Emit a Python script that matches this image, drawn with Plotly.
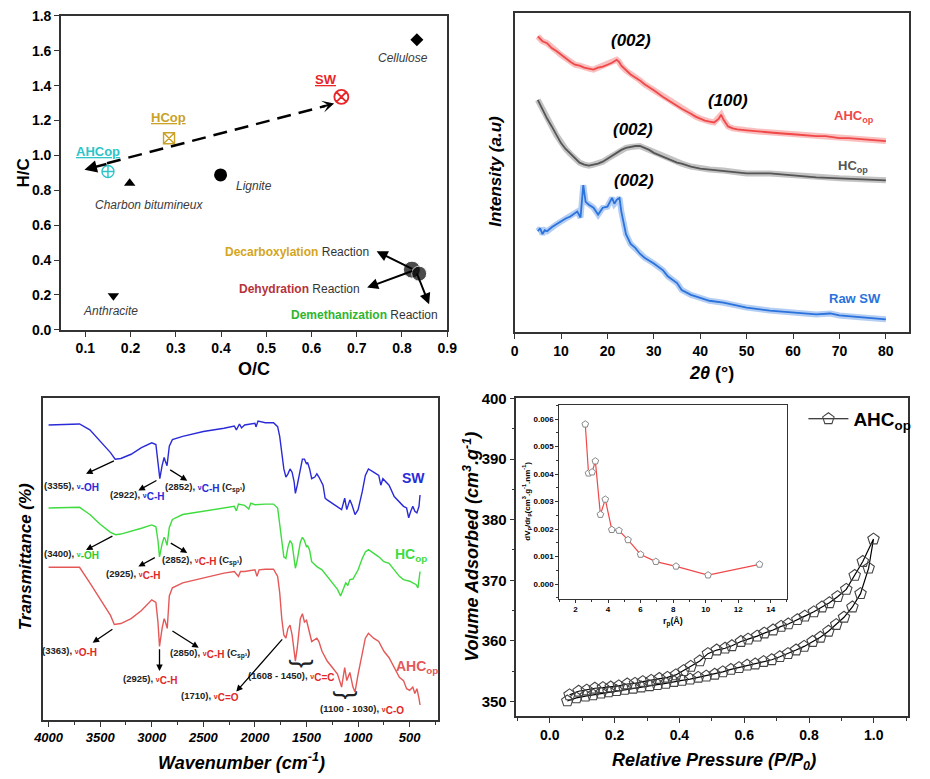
import plotly.graph_objects as go

FONT = "Liberation Sans, Arial, sans-serif"

# ---------------- Panel (a): van Krevelen diagram ----------------
vk_names = ["Cellulose", "SW", "HCop", "AHCop", "Charbon bitumineux", "Lignite", "Anthracite"]
vk_oc = [0.833, 0.666, 0.285, 0.150, 0.198, 0.399, 0.162]
vk_hc = [1.663, 1.335, 1.098, 0.908, 0.840, 0.888, 0.195]
blob_oc = [0.822, 0.838]
blob_hc = [0.345, 0.322]

# ---------------- Panel (b): XRD ----------------
xrd_ahc_2t = [5, 6, 7, 8, 9, 10, 11, 12, 13, 14, 15, 16, 17, 18, 19, 20, 21, 22, 22.5, 23, 24, 25, 26, 27, 28, 30, 32, 33,
              35, 36, 38, 39, 40, 41, 42, 43, 44, 44.5, 45, 46, 47, 48, 50, 52, 55, 57, 60, 62, 65, 67, 70, 72, 75, 77, 80]
xrd_ahc_i = [302, 297, 295, 290, 287, 283, 280, 276, 273, 272, 270, 269, 268, 270, 271, 273, 275, 278, 276, 272, 267, 263, 260, 257,
             253, 247, 240, 237, 231, 228, 223, 220, 218, 216, 215, 214, 218, 222, 217, 210, 208, 207, 206, 205, 204, 203, 202, 201,
             200, 200, 198, 198, 197, 196, 195]
xrd_hc_2t = [5, 5.5, 6, 7, 8, 9, 10, 11, 12, 13, 14, 15, 16, 17, 18, 19, 20, 21, 22, 23, 24, 25, 26, 27, 28, 29, 30, 32, 33, 35,
             36, 38, 40, 42, 45, 48, 50, 55, 60, 65, 70, 75, 80]
xrd_hc_i = [237, 232, 227, 218, 210, 201, 193, 187, 182, 177, 173, 171, 170, 171, 172, 174, 177, 180, 183, 186, 188, 189, 190, 190,
            188, 186, 183, 179, 177, 173, 172, 169, 167, 166, 165, 163, 162, 162, 160, 158, 157, 156, 155]
xrd_sw_2t = [5, 5.5, 6, 6.5, 7, 8, 9, 10, 11, 12, 13, 13.5, 14.2, 14.8, 15.3, 16, 17, 18, 19, 20, 21, 21.5, 22, 22.6, 23, 23.5, 24,
             25, 26, 27, 28, 30, 32, 33, 35, 36, 38, 40, 42, 45, 48, 50, 55, 60, 65, 68, 70, 75, 80]
xrd_sw_i = [103, 106, 100, 104, 103, 107, 110, 113, 116, 118, 121, 123, 117, 150, 133, 130, 127, 120, 127, 128, 137, 131, 135, 137,
            123, 112, 100, 90, 86, 80, 76, 70, 63, 57, 50, 43, 38, 35, 32, 30, 27, 25, 22, 20, 18, 19, 17, 15, 13]

# ---------------- Panel (c): FTIR ----------------
ftir_sw_wn = [4000, 3800, 3700, 3600, 3500, 3400, 3355, 3300, 3200, 3100, 3000, 2960, 2940, 2922, 2900, 2880, 2870, 2852, 2830,
              2800, 2700, 2500, 2300, 2200, 2180, 2150, 2130, 2100, 2000, 1990, 1970, 1900, 1820, 1780, 1760, 1740, 1720, 1700,
              1680, 1660, 1640, 1620, 1608, 1590, 1560, 1540, 1520, 1500, 1490, 1470, 1450, 1420, 1400, 1380, 1340, 1320, 1300,
              1250, 1200, 1160, 1130, 1110, 1080, 1060, 1030, 1000, 960, 930, 900, 870, 850, 800, 780, 760, 700, 650, 600, 560,
              530, 510, 490, 470, 450, 430, 410, 400]
ftir_sw_t = [302, 302.7, 303, 297, 285.3, 273.7, 267, 267.7, 272, 278.7, 283.7, 282, 263.7, 247, 260.3, 268.7, 265.3, 260.3, 280.3,
             287, 290.3, 295.3, 298.7, 301, 297, 303, 299, 302, 303.7, 300, 306, 304.3, 304.3, 300.3, 290.3, 270.3, 257, 248.7,
             252, 257, 253.7, 243.7, 232, 240.3, 257, 267, 267, 262, 263.7, 257, 247, 248.7, 252, 248.7, 240.3, 227, 225.3,
             222, 218.7, 215.3, 227, 215.3, 225.3, 220.3, 210.3, 215.3, 233.7, 250.3, 257, 255.3, 253.7, 250.3, 240.3, 247,
             240.3, 228.7, 223.7, 218.7, 217, 207, 213.7, 218.7, 213.7, 212, 218.7, 230.3]
ftir_hc_wn = [4000, 3800, 3700, 3600, 3500, 3400, 3350, 3300, 3200, 3100, 3000, 2960, 2940, 2925, 2900, 2880, 2870, 2852, 2830,
              2800, 2700, 2500, 2300, 2200, 2180, 2160, 2100, 2060, 2040, 2000, 1900, 1820, 1780, 1760, 1740, 1720, 1700, 1680,
              1660, 1640, 1608, 1590, 1560, 1540, 1520, 1500, 1490, 1470, 1450, 1400, 1350, 1300, 1250, 1200, 1170, 1140, 1120,
              1100, 1080, 1050, 1000, 960, 930, 900, 870, 800, 750, 700, 650, 600, 560, 500, 470, 440, 420, 400]
ftir_hc_t = [217, 217, 217.7, 210.3, 200.3, 192, 189.7, 190.3, 193, 196.3, 199.7, 197.7, 183.7, 167, 180.3, 187, 185.3, 178.7, 197,
             205.3, 210.3, 213.7, 217, 218.7, 214, 221, 219.7, 216, 222, 220.3, 221, 221, 217, 200.3, 180.3, 167, 165.3, 177,
             183.7, 180.3, 155.3, 163.7, 182, 187, 183.7, 177, 178.7, 173.7, 162, 157, 153.7, 147, 140.3, 133.7, 127, 135.3,
             140.3, 137.7, 143.7, 144.3, 153.7, 165.3, 172, 174.3, 172, 167, 162, 160.3, 153.7, 147, 143.7, 142, 140.3, 138.7,
             135.3, 152]
ftir_ahc_wn = [4000, 3800, 3700, 3600, 3500, 3400, 3363, 3300, 3200, 3100, 3000, 2960, 2940, 2925, 2900, 2880, 2870, 2850, 2830,
               2800, 2700, 2500, 2300, 2200, 2160, 2140, 2100, 2000, 1980, 1960, 1900, 1820, 1780, 1760, 1740, 1720, 1700, 1680,
               1660, 1640, 1608, 1590, 1560, 1540, 1520, 1500, 1480, 1450, 1400, 1380, 1350, 1300, 1250, 1200, 1160, 1130, 1110,
               1080, 1050, 1030, 1000, 960, 930, 900, 870, 850, 800, 770, 750, 700, 650, 600, 560, 530, 500, 470, 450, 430, 410, 400]
ftir_ahc_t = [156.3, 156.3, 156.3, 140.3, 123.7, 107, 97.7, 98.7, 103.7, 112, 123, 120.3, 100.3, 75.3, 93.7, 103.7, 101, 93.7, 127,
              135.3, 140.3, 145.3, 150.3, 152, 147, 152, 152, 153.7, 147, 153.7, 154.3, 154.3, 147, 130.3, 103.7, 87, 83.7, 93.7,
              97, 87, 60.3, 73.7, 103.7, 108.7, 100.3, 102, 93.7, 80.3, 83.7, 80.3, 70.3, 60.3, 53.7, 47, 33.7, 53.7, 40.3,
              48.7, 33.7, 28.7, 47, 70.3, 83.7, 88.7, 85.3, 83.7, 80.3, 73.7, 70.3, 63.7, 53.7, 43.7, 40.3, 32, 30.3, 33.7, 27,
              32, 22, 15.3]

# ---------------- Panel (d): N2 isotherm ----------------
ads_p = [0.054, 0.082, 0.110, 0.133, 0.158, 0.181, 0.206, 0.231, 0.257, 0.282, 0.308, 0.332, 0.358, 0.383, 0.408, 0.433,
         0.458, 0.483, 0.509, 0.534, 0.559, 0.584, 0.609, 0.634, 0.660, 0.685, 0.710, 0.735, 0.760, 0.785, 0.811, 0.835,
         0.860, 0.884, 0.908, 0.934, 0.959, 0.984, 0.999]
ads_v = [350.1, 350.6, 350.9, 351.1, 351.4, 351.6, 351.8, 352.0, 352.2, 352.4, 352.6, 352.8, 353.0, 353.3, 353.5, 353.7,
         354.0, 354.2, 354.5, 354.9, 355.3, 355.6, 356.0, 356.2, 356.6, 356.9, 357.4, 357.9, 358.5, 359.1, 359.9, 360.6,
         361.6, 362.7, 363.9, 365.6, 367.8, 372.0, 376.8]
des_p = [0.966, 0.941, 0.915, 0.888, 0.863, 0.840, 0.815, 0.787, 0.764, 0.736, 0.714, 0.689, 0.662, 0.640, 0.612, 0.590,
         0.562, 0.541, 0.515, 0.488, 0.463, 0.435, 0.413, 0.389, 0.363, 0.338, 0.313, 0.287, 0.263, 0.239, 0.213, 0.188,
         0.164, 0.139, 0.114, 0.089, 0.061]
des_v = [373.1, 370.8, 368.5, 367.3, 366.3, 365.6, 364.8, 364.1, 363.5, 362.8, 362.4, 361.8, 361.3, 360.8, 360.3, 359.9,
         359.2, 358.8, 358.5, 357.9, 356.7, 355.8, 355.1, 354.4, 354.0, 353.8, 353.5, 353.3, 353.0, 352.9, 352.6, 352.4,
         352.3, 352.2, 351.9, 351.7, 351.1]
psd_r = [2.60, 2.80, 3.02, 3.22, 3.53, 3.83, 4.23, 4.67, 5.23, 6.00, 6.94, 8.18, 10.15, 13.31]
psd_dv = [0.00581, 0.00403, 0.00407, 0.00447, 0.00253, 0.00308, 0.00198, 0.00195, 0.00161, 0.00108, 0.00082, 0.00065,
          0.00033, 0.00072]

fig = go.Figure()

# ---- (a) scatter points
vk_style = {
    "Cellulose": dict(symbol="diamond", size=10, color="black"),
    "SW": dict(symbol="circle-x-open", size=14, color="#e8262a", line=dict(width=1.8, color="#e8262a")),
    "HCop": dict(symbol="square-x-open", size=11, color="#c9a227", line=dict(width=1.4, color="#c9a227")),
    "AHCop": dict(symbol="circle-cross-open", size=12, color="#2ec4c8", line=dict(width=1.4, color="#2ec4c8")),
    "Charbon bitumineux": dict(symbol="triangle-up", size=10, color="black"),
    "Lignite": dict(symbol="circle", size=13, color="black"),
    "Anthracite": dict(symbol="triangle-down", size=10, color="black"),
}
for n, xo, yh in zip(vk_names, vk_oc, vk_hc):
    fig.add_trace(go.Scatter(x=[xo], y=[yh], mode="markers", marker=vk_style[n], showlegend=False,
                             xaxis="x", yaxis="y"))
fig.add_trace(go.Scatter(x=blob_oc, y=blob_hc, mode="markers", marker=dict(symbol="circle", size=[17, 15], color="black"),
                         showlegend=False, xaxis="x", yaxis="y"))

# ---- (b) XRD
for xs, ys, col in [(xrd_ahc_2t, xrd_ahc_i, "#f04848"), (xrd_hc_2t, xrd_hc_i, "#555555"), (xrd_sw_2t, xrd_sw_i, "#2a72dc")]:
    fig.add_trace(go.Scatter(x=xs, y=ys, mode="lines", line=dict(color=col, width=6), opacity=0.35,
                             showlegend=False, xaxis="x2", yaxis="y2"))
    fig.add_trace(go.Scatter(x=xs, y=ys, mode="lines", line=dict(color=col, width=1.8),
                             showlegend=False, xaxis="x2", yaxis="y2"))

# ---- (c) FTIR
for xs, ys, col in [(ftir_sw_wn, ftir_sw_t, "#2a2ad8"), (ftir_hc_wn, ftir_hc_t, "#3edc3e"), (ftir_ahc_wn, ftir_ahc_t, "#e45858")]:
    fig.add_trace(go.Scatter(x=xs, y=ys, mode="lines", line=dict(color=col, width=1.4),
                             showlegend=False, xaxis="x3", yaxis="y3"))

# ---- (d) isotherm
fig.add_trace(go.Scatter(x=ads_p + des_p, y=ads_v + des_v, mode="lines+markers", name="<b>AHC<sub>op</sub></b>",
                         line=dict(color="black", width=1.2),
                         marker=dict(symbol="pentagon-open", size=12, color="#444444", line=dict(width=1.1)),
                         showlegend=True, xaxis="x4", yaxis="y4"))
fig.add_trace(go.Scatter(x=psd_r, y=psd_dv, mode="lines+markers", line=dict(color="#f04848", width=1.2),
                         marker=dict(symbol="pentagon", size=7, color="white", line=dict(color="#888888", width=1)),
                         showlegend=False, xaxis="x5", yaxis="y5"))

tf = dict(family=FONT, size=14, color="black", weight="bold")
ax_common = dict(showline=True, linecolor="#333333", linewidth=1.5, mirror=True, showgrid=False, zeroline=False,
                 ticks="outside", ticklen=5, tickwidth=1.2, tickcolor="#333333", tickfont=tf)

fig.update_layout(
    width=930, height=779, autosize=False,
    margin=dict(l=0, r=0, t=0, b=0),
    paper_bgcolor="white", plot_bgcolor="white",
    font=dict(family=FONT, color="black", size=12),
    xaxis=dict(ax_common, domain=[0.057, 0.481], anchor="y", range=[0.046, 0.9], dtick=0.1, tick0=0.1),
    yaxis=dict(ax_common, domain=[0.579, 0.991], anchor="x", range=[0, 1.8], dtick=0.2, tickformat=".1f"),
    xaxis2=dict(ax_common, domain=[0.555, 0.988], anchor="y2", range=[0, 85],
                tickvals=[0, 10, 20, 30, 40, 50, 60, 70, 80]),
    yaxis2=dict(ax_common, domain=[0.576, 0.995], anchor="x2", range=[0, 326], ticks="", showticklabels=False),
    xaxis3=dict(ax_common, domain=[0.037, 0.471], anchor="y3", range=[4057, 225], tickvals=[4000, 3500, 3000, 2500, 2000, 1500, 1000, 500],
                tickfont=dict(family=FONT, size=13, color="black", weight="bold", style="italic"),
                minor=dict(tickvals=[3750, 3250, 2750, 2250, 1750, 1250, 750, 250], ticks="outside", ticklen=3, tickcolor="#333333")),
    yaxis3=dict(ax_common, domain=[0.067, 0.490], anchor="x3", range=[0, 330], ticks="", showticklabels=False),
    xaxis4=dict(ax_common, domain=[0.557, 0.987], anchor="y4", range=[-0.103, 1.106], tickvals=[0, 0.2, 0.4, 0.6, 0.8, 1.0],
                tickformat=".1f", minor=dict(dtick=0.1, tick0=0, ticks="outside", ticklen=3, tickcolor="#333333")),
    yaxis4=dict(ax_common, domain=[0.072, 0.489], anchor="x4", range=[347.6, 400], dtick=10, tick0=350,
                tickfont=dict(family=FONT, size=15, color="black", weight="bold"),
                minor=dict(dtick=5, tick0=350, ticks="outside", ticklen=3, tickcolor="#333333")),
    xaxis5=dict(ax_common, domain=[0.604, 0.854], anchor="y5", range=[1, 15], dtick=2, tick0=2, ticklen=3, linewidth=1,
                tickfont=dict(family=FONT, size=8, color="black", weight="bold"),
                minor=dict(dtick=1, tick0=1, ticks="outside", ticklen=2, tickcolor="#333333")),
    yaxis5=dict(ax_common, domain=[0.226, 0.480], anchor="x5", range=[-0.00053, 0.0065], dtick=0.001, tick0=0,
                tickformat=".3f", ticklen=3, linewidth=1,
                tickfont=dict(family=FONT, size=8, color="black", weight="bold"),
                minor=dict(dtick=0.0005, tick0=0, ticks="outside", ticklen=2, tickcolor="#333333")),
    legend=dict(x=0.872, y=0.487, xanchor="left", yanchor="top", bgcolor="rgba(0,0,0,0)",
                font=dict(family=FONT, size=19, color="black"), itemwidth=40, tracegroupgap=0),
)

ann = []


def txt(x, y, text, xref, yref, size=12, color="black", bold=False, italic=False, angle=0, xanchor="center"):
    ann.append(dict(x=x, y=y, xref=xref, yref=yref, text=text, showarrow=False, textangle=angle, xanchor=xanchor,
                    yanchor="middle",
                    font=dict(family=FONT, size=size, color=color, weight="bold" if bold else "normal",
                              style="italic" if italic else "normal")))


def arrow(x, y, ax, ay, xr, yr, head=2, size=1.0, width=1.5, color="black"):
    ann.append(dict(x=x, y=y, ax=ax, ay=ay, xref=xr, yref=yr, axref=xr, ayref=yr, text="", showarrow=True,
                    arrowhead=head, arrowsize=size, arrowwidth=width, arrowcolor=color))


# ---- (a) annotations
GRAY = "#3a3a3a"
txt(0.803, 1.56, "Cellulose", "x", "y", 12, GRAY, italic=True)
txt(0.473, 0.827, "Lignite", "x", "y", 12, GRAY, italic=True)
txt(0.241, 0.714, "Charbon bitumineux", "x", "y", 12, GRAY, italic=True)
txt(0.156, 0.110, "Anthracite", "x", "y", 12, GRAY, italic=True)
txt(0.631, 1.435, "<u>SW</u>", "x", "y", 13, "#e8262a", bold=True)
txt(0.283, 1.22, "<u>HCop</u>", "x", "y", 13, "#c9a227", bold=True)
txt(0.128, 1.025, "<u>AHCop</u>", "x", "y", 13, "#2ec4c8", bold=True)
txt(0.731, 0.445, "<b><span style='color:#d4a520'>Decarboxylation</span></b> <span style='color:#333333'>Reaction</span>",
    "x", "y", 12, xanchor="right")
txt(0.711, 0.236, "<b><span style='color:#b5343a'>Dehydration</span></b> <span style='color:#333333'>Reaction</span>",
    "x", "y", 12, xanchor="right")
txt(0.885, 0.084, "<b><span style='color:#2fb52f'>Demethanization</span></b> <span style='color:#333333'>Reaction</span>",
    "x", "y", 12, xanchor="right")
arrow(0.744, 0.450, 0.826, 0.345, "x", "y", head=2, size=1.1, width=2)
arrow(0.723, 0.242, 0.826, 0.340, "x", "y", head=2, size=1.1, width=2)
arrow(0.860, 0.147, 0.832, 0.330, "x", "y", head=2, size=1.1, width=2)
fig.add_shape(type="line", x0=0.148, y0=0.955, x1=0.630, y1=1.283, xref="x", yref="y",
              line=dict(color="black", width=2.5, dash="14px,8px"))
arrow(0.098, 0.918, 0.150, 0.953, "x", "y", head=2, size=1.0, width=2.5)
arrow(0.650, 1.298, 0.622, 1.278, "x", "y", head=3, size=1.0, width=2.0)
txt(0.269, 0.527, "<b>O/C</b>", "paper", "paper", 18)
txt(0.016, 0.785, "<b>H/C</b>", "paper", "paper", 17, angle=-90)

# ---- (b) annotations
txt(25.1, 298, "<b><i>(002)</i></b>", "x2", "y2", 17)
txt(46.0, 236, "<b><i>(100)</i></b>", "x2", "y2", 17)
txt(25.5, 207, "<b><i>(002)</i></b>", "x2", "y2", 17)
txt(25.7, 155, "<b><i>(002)</i></b>", "x2", "y2", 17)
txt(73.2, 220, "<b>AHC<sub>op</sub></b>", "x2", "y2", 13, "#f04848")
txt(73.0, 169, "<b>HC<sub>op</sub></b>", "x2", "y2", 13, "#555555")
txt(73.4, 34, "<b>Raw SW</b>", "x2", "y2", 13, "#2a72dc")
txt(0.771, 0.522, "<b><i>2θ</i> (°)</b>", "paper", "paper", 18)
txt(0.534, 0.787, "<b><i>Intensity (a.u)</i></b>", "paper", "paper", 17, angle=-90)

# ---- (c) annotations
BL, GR, RD = "#2a2ad8", "#2cc92c", "#e02828"


def nu(lbl, col):
    return ("<span style='color:%s'><span style='font-size:7px'>ν</span><sub><span style='font-size:10px'>%s</span></sub></span>"
            % (col, lbl))


def ftxt(x, y, s):
    txt(x, y, s, "x3", "y3", 9.5, "#222222", bold=True)


ftxt(3779, 239, "(3355), " + nu("-OH", BL))
ftxt(3146, 230, "(2922), " + nu("C-H", BL))
ftxt(2482, 238, "(2852), " + nu("C-H", BL) + " (C<sub>sp³</sub>)")
ftxt(3779, 169, "(3400), " + nu("-OH", GR))
ftxt(3178, 149, "(2925), " + nu("C-H", RD))
ftxt(2513, 163, "(2852), " + nu("C-H", RD) + " (C<sub>sp³</sub>)")
ftxt(3794, 70, "(3363), " + nu("O-H", RD))
ftxt(3020, 41, "(2925), " + nu("C-H", RD))
ftxt(2434, 68, "(2850), " + nu("C-H", RD) + " (C<sub>sp³</sub>)")
ftxt(2434, 24, "(1710), " + nu("C=O", RD))
ftxt(1644, 44, "(1608 - 1450), " + nu("C=C", RD))
ftxt(964, 11, "(1100 - 1030), " + nu("C-O", RD))
txt(1533, 58, "}", "x3", "y3", 26, "#222222", angle=90)
txt(1100, 25, "}", "x3", "y3", 26, "#222222", angle=90)
arrow(3637, 252, 3352, 266, "x3", "y3", width=1.3)
arrow(3130, 235, 2940, 246, "x3", "y3", width=1.3)
arrow(2656, 245, 2836, 257, "x3", "y3", width=1.3)
arrow(3637, 174, 3367, 189, "x3", "y3", width=1.3)
arrow(3130, 157, 2956, 167, "x3", "y3", width=1.3)
arrow(2656, 171, 2830, 182, "x3", "y3", width=1.3)
arrow(3573, 79, 3367, 94, "x3", "y3", width=1.3)
arrow(2925, 50, 2925, 74, "x3", "y3", width=1.3)
arrow(2545, 74, 2814, 92, "x3", "y3", width=1.3)
arrow(2181, 29, 1723, 84, "x3", "y3", width=1.3)
txt(460, 248, "<b>SW</b>", "x3", "y3", 14, BL)
txt(483, 169, "<b>HC<sub>op</sub></b>", "x3", "y3", 14, "#3edc3e")
txt(426, 54, "<b>AHC<sub>op</sub></b>", "x3", "y3", 14, "#e45858")
txt(0.255, 0.012, "<b><i>Wavenumber (cm<sup>-1</sup>)</i></b>", "paper", "paper", 18)
txt(0.018, 0.281, "<b><i>Transmittance (%)</i></b>", "paper", "paper", 17, angle=-90)

# ---- (d) annotations
txt(0.774, 0.012, "<b><i>Relative Pressure (P/P<sub>0</sub>)</i></b>", "paper", "paper", 18)
txt(0.508, 0.294, "<b><i>Volume Adsorbed (cm<sup>3</sup>.g<sup>-1</sup>)</i></b>", "paper", "paper", 18, angle=-90)
txt(0.568, 0.354, "<b>dV<sub>p</sub>/dr<sub>p</sub>(cm<sup>3</sup>.g<sup>-1</sup>.nm<sup>-1</sup>)</b>", "paper", "paper", 8, angle=-90)
txt(0.729, 0.195, "<b>r<sub>p</sub>(Å)</b>", "paper", "paper", 9)

fig.update_layout(annotations=ann)
fig.write_html("out.html", config={"displayModeBar": False}, post_script="document.body.style.margin='0';")
